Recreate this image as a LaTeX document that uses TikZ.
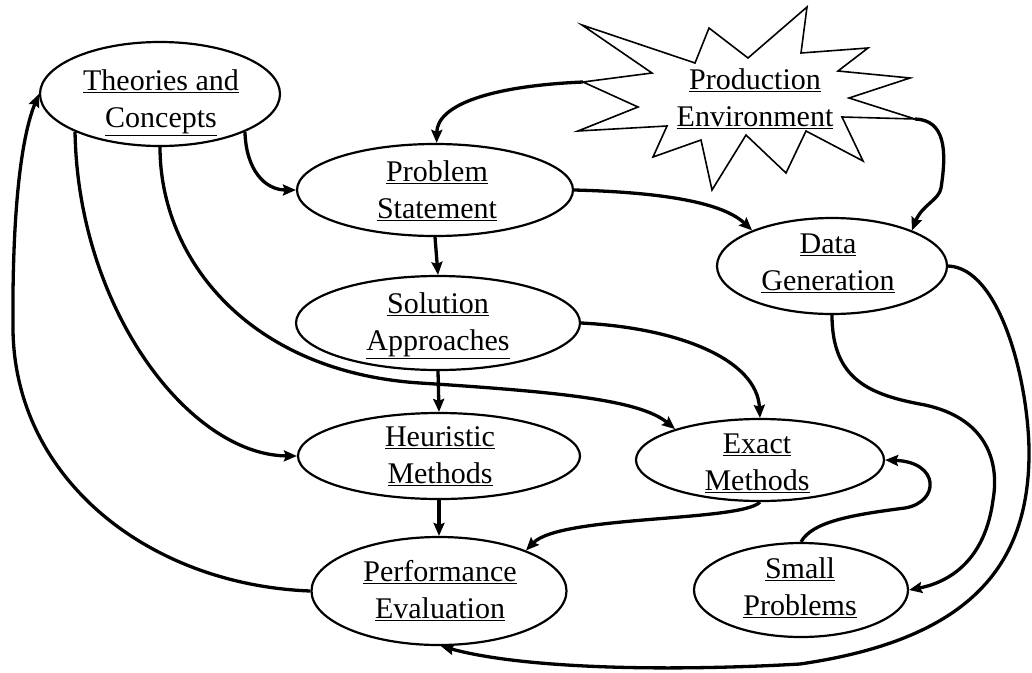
\documentclass[tikz,border=0pt]{standalone}
\usepackage{fontspec}
\setmainfont{Liberation Serif}
\usetikzlibrary{shapes.geometric,arrows.meta}
\begin{document}
\begin{tikzpicture}[x=1pt,y=-1pt,
  ell/.style={ellipse,draw,line width=2.2pt,inner sep=0pt},
  lab/.style={align=center,inner sep=0pt,font=\fontsize{30}{37}\selectfont},
  conn/.style={line width=3.3pt,-{Stealth[length=13pt,width=11pt,inset=2pt]}},
  starline/.style={draw,line width=1.6pt,line join=miter}]
\useasboundingbox (0,0) rectangle (1032,672);
% ellipses
\node[ell,minimum width=240pt,minimum height=104pt] (te) at (160,94) {};
\node[ell,minimum width=276pt,minimum height=92pt] (ps) at (435,190) {};
\node[ell,minimum width=284pt,minimum height=94pt] (sa) at (438,323) {};
\node[ell,minimum width=282pt,minimum height=86pt] (hm) at (439,456) {};
\node[ell,minimum width=255pt,minimum height=108pt] (pe) at (439,591) {};
\node[ell,minimum width=248pt,minimum height=82pt] (em) at (760,460) {};
\node[ell,minimum width=214pt,minimum height=94pt] (sp) at (801,590) {};
\node[ell,minimum width=230pt,minimum height=96pt] (dg) at (832,266) {};
% star
\draw[starline] (582,25) -- (695,63) -- (709,28) -- (748,58) -- (807,7) -- (801,53)
  -- (868,48) -- (838,71) -- (910,78) -- (849,98) -- (915,119) -- (842,117)
  -- (863,161) -- (806,131) -- (786,173) -- (746,135) -- (712,190) -- (701,140)
  -- (653,157) -- (667,126) -- (578,131) -- (638,107) -- (583,82) -- (652,73) -- cycle;
\coordinate (prL) at (583,82);
\coordinate (prR) at (915,119);
% labels
\node[lab] (pr-t) at (755,99) {\underline{Production}\\\underline{Environment}};
\node[lab] (te-t) at (161,102.5) {\underline{Theories and}\\\underline{Concepts}};
\node[lab] (ps-t) at (437,190.25) {\underline{Problem}\\\underline{Statement}};
\node[lab] (sa-t) at (438,326) {\underline{Solution}\\\underline{Approaches}};
\node[lab] (hm-t) at (440,456) {\underline{Heuristic}\\\underline{Methods}};
\node[lab] (pe-t) at (440,591) {\underline{Performance}\\\underline{Evaluation}};
\node[lab] (em-t) at (757,463) {\underline{Exact}\\\underline{Methods}};
\node[lab] (sp-t) at (800,588) {\underline{Small}\\\underline{Problems}};
\node[lab] (dg-t) at (828,263) {\underline{Data}\\\underline{Generation}};
% connectors
\draw[conn] (prL) .. controls (490,86) and (437,105) .. (ps.88);
\draw[conn] (prR) .. controls (945,120) and (947,150) .. (941,188) .. controls (939,200) and (922,205) .. (dg.24);
\draw[conn] (te.-24) .. controls (246,170) and (265,190) .. (ps.west);
\draw[conn] (ps.south) -- (sa.north);
\draw[conn] (ps.east) .. controls (650,192) and (720,200) .. (dg.156);
\draw[conn] (te.204) .. controls (78,310) and (190,455) .. (hm.west);
\draw[conn] (te.south) .. controls (160,260) and (250,372) .. (420,383) .. controls (560,392) and (640,400) .. (em.160);
\draw[conn] (sa.east) .. controls (680,328) and (757,360) .. (em.north);
\draw[conn] (sa.south) -- (hm.north);
\draw[conn] (hm.south) -- (pe.north);
\draw[conn] (em.south) .. controls (740,522) and (560,515) .. (pe.25);
\draw[conn] (sp.north) .. controls (812,522) and (850,515) .. (905,508) .. controls (940,502) and (940,462) .. (em.east);
\draw[conn] (dg.south) .. controls (832,380) and (870,395) .. (925,405) .. controls (985,418) and (1000,460) .. (993,500) .. controls (985,560) and (950,582) .. (sp.east);
\draw[conn] (dg.east) .. controls (1000,268) and (1028,380) .. (1029,450) .. controls (1030,570) and (965,640) .. (800,664) .. controls (660,672) and (520,668) .. (pe.-88);
\draw[conn] (pe.west) .. controls (150,585) and (15,480) .. (13,330) .. controls (12,220) and (20,140) .. (te.west);
\end{tikzpicture}
\end{document}
